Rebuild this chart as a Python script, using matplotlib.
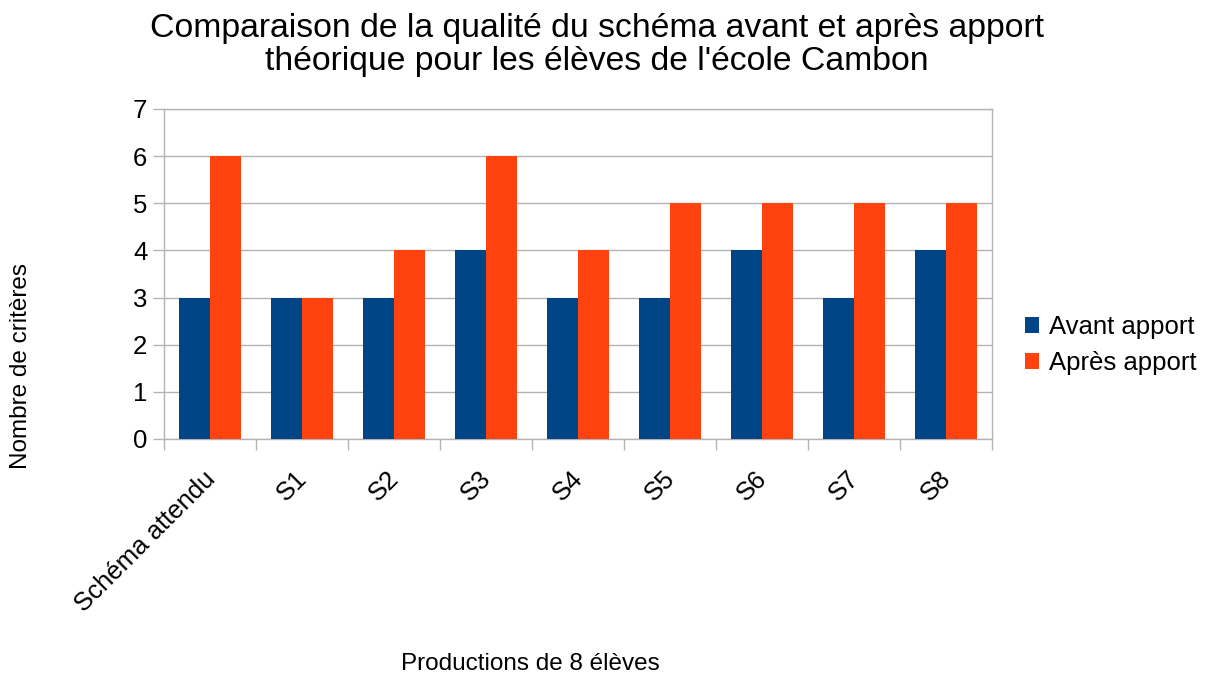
import matplotlib
matplotlib.use("Agg")
import matplotlib.pyplot as plt
import matplotlib.transforms as mtransforms
import numpy as np

categories = ["Schéma attendu", "S1", "S2", "S3", "S4", "S5", "S6", "S7", "S8"]
avant = [3, 3, 3, 4, 3, 3, 4, 3, 4]
apres = [6, 3, 4, 6, 4, 5, 5, 5, 5]

plt.rcParams["font.family"] = ["Liberation Sans", "DejaVu Sans"]

fig = plt.figure(figsize=(12.07, 6.76), dpi=100)
ax = fig.add_axes([164 / 1207, 1 - 439 / 676, 828 / 1207, 330 / 676])

x = np.arange(len(categories))
w = 0.337
ax.bar(x - w / 2, avant, w, color="#004586", label="Avant apport", zorder=3)
ax.bar(x + w / 2, apres, w, color="#ff420e", label="Après apport", zorder=3)

ax.set_xlim(-0.5, len(categories) - 0.5)
ax.set_ylim(0, 7)
ax.set_yticks(range(0, 8))
ax.yaxis.grid(True, color="#b3b3b3", linewidth=1, zorder=0)

# ticks at category boundaries, labels at centres
ax.set_xticks(np.arange(-0.5, len(categories), 1))
ax.set_xticklabels([])
ax.set_xticks(x, minor=True)
ax.set_xticklabels(categories, minor=True, rotation=45, ha="right",
                   rotation_mode="anchor", fontsize=18.5)
ax.tick_params(axis="x", which="minor", length=0, pad=20)
ax.tick_params(axis="x", which="major", length=8, color="#b3b3b3", width=1)
ax.tick_params(axis="y", length=8, color="#b3b3b3", width=1, labelsize=18.5, pad=4)
shift = mtransforms.ScaledTranslation(-0.07, 0, fig.dpi_scale_trans)
for lab in ax.get_xticklabels(minor=True):
    lab.set_transform(lab.get_transform() + shift)

for s in ["left", "right", "bottom", "top"]:
    ax.spines[s].set_color("#b3b3b3")
    ax.spines[s].set_linewidth(1)

fig.text(597 / 1207, 1 - 45 / 676,
         "Comparaison de la qualité du schéma avant et après apport\nthéorique pour les élèves de l'école Cambon",
         fontsize=24.3, ha="center", va="center", linespacing=1.1)
fig.text(530 / 1207, 1 - 664 / 676, "Productions de 8 élèves", fontsize=17.5,
         ha="center", va="center")
fig.text(21 / 1207, 1 - 366 / 676, "Nombre de critères", fontsize=17.5,
         ha="center", va="center", rotation=90)

ax.legend(loc="center left", bbox_to_anchor=(1012 / 1207, 1 - 345 / 676),
          bbox_transform=fig.transFigure, frameon=False,
          fontsize=18.5, handlelength=0.55, handleheight=0.6, handletextpad=0.4,
          labelspacing=0.45, borderpad=0)

fig.savefig("out.png", dpi=100)
